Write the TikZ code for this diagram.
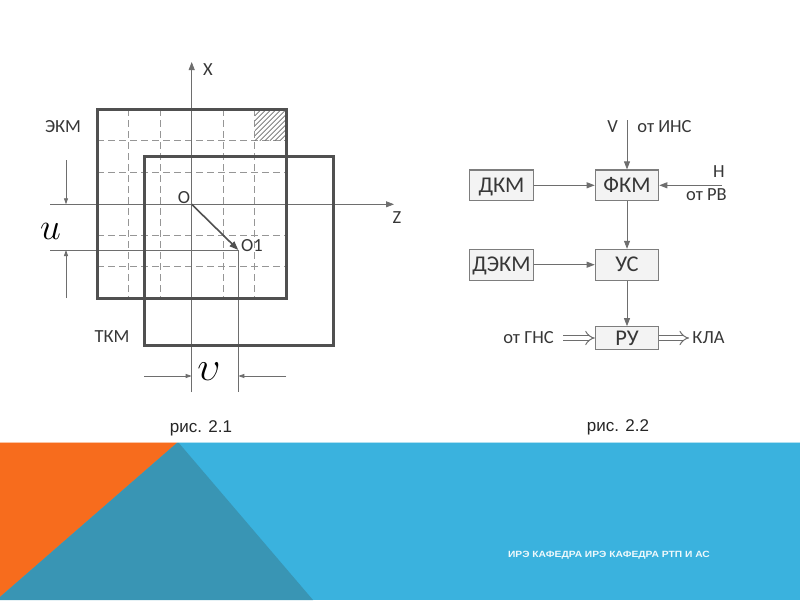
\documentclass[tikz,border=0pt]{standalone}
\usepackage{fontspec}
\setmainfont{Carlito}
\newfontfamily\capfont{Liberation Sans}
\usetikzlibrary{arrows.meta}
\definecolor{orng}{RGB}{247,108,29}
\definecolor{teal2}{RGB}{57,149,180}
\definecolor{blue2}{RGB}{58,178,222}
\definecolor{sqgray}{RGB}{80,80,80}
\definecolor{lngray}{RGB}{110,110,110}
\definecolor{grgray}{RGB}{150,150,150}
\definecolor{boxgray}{RGB}{125,125,125}
\definecolor{boxfill}{RGB}{243,243,243}
\definecolor{txtgray}{RGB}{55,55,55}
\begin{document}
\begin{tikzpicture}[x=1pt,y=-1pt,
  thinln/.style={draw=lngray, line width=0.8pt},
  sqr/.style={draw=sqgray, line width=2.6pt},
  gridln/.style={draw=grgray, line width=0.7pt, dash pattern=on 7pt off 4pt},
  arr/.style={-{Triangle[length=8pt,width=6pt]}},
  dimarr/.style={-{Triangle[length=6pt,width=4pt]}},
  box/.style={draw=boxgray, fill=boxfill, line width=1.1pt, minimum width=63.5pt,
    minimum height=30.7pt, inner sep=0pt, text=txtgray, text height=14pt, text depth=0pt,
    font=\fontsize{22.5}{22.5}\selectfont},
  lbl/.style={inner sep=0pt, text=txtgray, font=\fontsize{18.5}{18.5}\selectfont},
  dbl/.style={draw=lngray, double=white, double distance=4pt, line width=1pt, -{Implies[scale=1.25]}},
]
\useasboundingbox (0,0) rectangle (800,600);
\fill[white] (0,0) rectangle (800,600);
% ---- bottom band
\fill[blue2] (0,442) rectangle (800,600);
\fill[orng] (0,442) -- (178,442) -- (0,597) -- cycle;
\fill[teal2] (178,442) -- (0,597) -- (0,600) -- (313,600) -- cycle;
\draw[white, opacity=0.6, line width=1pt] (0,442.5) -- (800,442.5);
% ---- figure 2.1
% grid
\foreach \x in {128.8,160.3,223.3,254.8}
  \draw[gridln] (\x,109.3) -- (\x,298.3);
\foreach \y in {140.8,172.3,235.3,266.8}
  \draw[gridln] (97.3,\y) -- (286.3,\y);
% hatch
\begin{scope}
  \clip (254.8,109.3) rectangle (286.3,140.8);
  \foreach \i in {-40,-35,...,40}
    \draw[lngray, line width=0.7pt] (254.8+\i,140.8) -- ++(40,-40);
\end{scope}
% coordinates
\coordinate (O) at (191.7,204.3);
\coordinate (O1) at (238.3,250);
\coordinate (xtop) at (191.7,62);
\coordinate (xbot) at (191.7,392);
\coordinate (zl) at (50,204.3);
\coordinate (zr) at (394,204.3);
\coordinate (ul) at (50,250);
\coordinate (vbot) at (238.3,392);
% axes
\draw[thinln, arr] (xbot) -- (xtop);
\draw[thinln, arr] (zl) -- (zr);
\draw[thinln] (ul) -- (O1) -- (vbot);
% squares
\draw[sqr] (97.3,109.3) rectangle (286.3,298.3);
\draw[sqr] (144.3,156.7) rectangle (333.3,345.3);
% vector O -> O1
\draw[draw=sqgray, line width=1.6pt, -{Triangle[length=9pt,width=6.5pt]}] (O) -- (O1);
% dimension u
\coordinate (ua) at (66,160);
\coordinate (ua2) at (66,204.3);
\coordinate (ub) at (66,298);
\coordinate (ub2) at (66,250);
\draw[thinln, dimarr] (ua) -- (ua2);
\draw[thinln, dimarr] (ub) -- (ub2);
\node[inner sep=0pt] (ulbl) at (50.5,231) {\fontsize{24}{24}\selectfont\scalebox{1.5}{$u$}};
% dimension v
\coordinate (va) at (144,376);
\coordinate (va2) at (191.7,376);
\coordinate (vb) at (286,376);
\coordinate (vb2) at (238.3,376);
\draw[thinln, dimarr] (va) -- (va2);
\draw[thinln, dimarr] (vb) -- (vb2);
\node[inner sep=0pt] (vlbl) at (209,372) {\fontsize{24}{24}\selectfont\scalebox{1.65}{$\upsilon$}};
% labels
\node[lbl] (lx) at (208,70) {X};
\node[lbl] (lz) at (397,218) {Z};
\node[lbl] (lo) at (184,198) {O};
\node[lbl] (lo1) at (252,246) {O1};
\node[lbl] (lekm) at (63,127) {ЭКМ};
\node[lbl] (ltkm) at (112,337) {ТКМ};
% ---- figure 2.2
\node[box] (dkm) at (501.5,185.3) {ДКМ};
\node[box] (fkm) at (627,185.3) {ФКМ};
\node[box] (dekm) at (501.5,264.7) {ДЭКМ};
\node[box] (us) at (627,264.7) {УС};
\node[box, minimum height=22.6pt] (ru) at (627,338) {РУ};
\coordinate (vin) at (627,120);
\coordinate (hin) at (722,185.3);
\coordinate (gns) at (563,338);
\coordinate (kla) at (689,338);
\draw[thinln, arr] (vin) -- (fkm.north);
\draw[thinln, arr] (hin) -- (fkm.east);
\draw[thinln, arr] (dkm.east) -- (fkm.west);
\draw[thinln, arr] (fkm.south) -- (us.north);
\draw[thinln, arr] (dekm.east) -- (us.west);
\draw[thinln, arr] (us.south) -- (ru.north);
\draw[dbl] (gns) -- (ru.west);
\draw[dbl] (ru.east) -- (kla);
\node[lbl] (lv) at (612.7,127) {V};
\node[lbl] (lins) at (664.5,127) {от ИНС};
\node[lbl] (lh) at (719,172) {Н};
\node[lbl] (lrv) at (706.5,195) {от РВ};
\node[lbl] (lgns) at (528.5,338) {от ГНС};
\node[lbl] (lkla) at (708.5,338) {КЛА};
% ---- captions
\node[inner sep=0pt, text=black!85, font=\capfont\fontsize{17}{17}\selectfont] (c1) at (201,428) {рис. 2.1};
\node[inner sep=0pt, text=black!85, font=\capfont\fontsize{17}{17}\selectfont] (c2) at (618,427) {рис. 2.2};
\node[inner sep=0pt, text=white!92!blue2, font=\capfont\bfseries\fontsize{9}{9}\selectfont] (foot) at (609,555) {\scalebox{1.14}[1]{ИРЭ КАФЕДРА ИРЭ КАФЕДРА РТП И АС}};
\end{tikzpicture}
\end{document}
